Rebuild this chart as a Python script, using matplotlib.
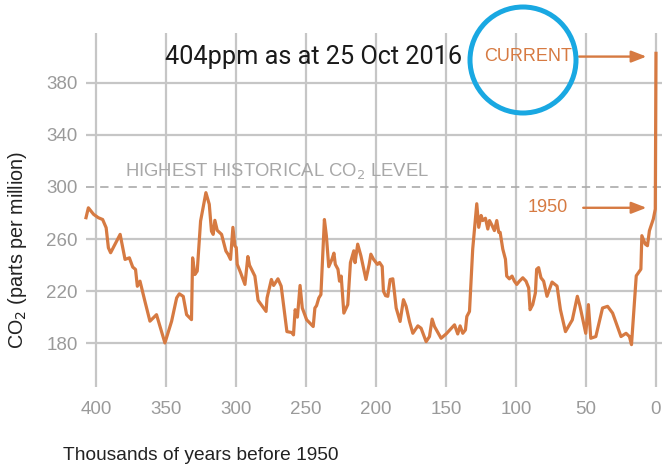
import matplotlib
matplotlib.use("Agg")
import matplotlib.pyplot as plt
from matplotlib.patches import Ellipse
from matplotlib import font_manager

# ---- data ----
kyr_before_1950 = [407.4, 405.7, 402, 398.6, 395.5, 393, 391.4, 389.8, 386.7, 383, 379.5, 376.4, 374, 372,
                   370.7, 368.8, 365.3, 361.7, 357, 351, 346.2, 342.6, 340.7, 337.9, 335.5, 332, 331.2,
                   329.6, 327.9, 325.5, 321.7, 319.3, 317.7, 316.5, 315.3, 313.6, 310.5, 307.4, 305.8,
                   304.1, 302.4, 301, 300, 299.3, 296.9, 293.8, 291.7, 290.5, 286.7, 284.4, 278.7, 278,
                   274.9, 273.3, 270.2, 267.9, 263.8, 260.3, 259.1, 257.9, 256.3, 254.4, 252.8, 249.7,
                   245, 243.8, 242.6, 241, 239.5, 237, 235.6, 233.9, 231.6, 230.2, 229.2, 227.3, 226.2,
                   225, 223.1, 220.3, 218.4, 216, 215.1, 213.2, 210.9, 207.3, 205, 203.8, 201.9, 199.1,
                   197.6, 195.7, 194.8, 193.3, 191.7, 190, 188.1, 186.9, 185.7, 182.9, 180.5, 178.6,
                   176.2, 173.8, 170.2, 167.9, 164.3, 161.9, 160, 158.3, 153.6, 150, 144, 141.7, 140,
                   138.1, 136.2, 135.2, 133.3, 131, 128.1, 126.7, 125, 123.8, 121.9, 120.2, 119, 117.1,
                   115.5, 113.8, 112.4, 111.4, 109.5, 107.6, 106.7, 104.8, 102.9, 101.2, 99.5, 97.6,
                   95.2, 92.9, 91, 90, 88.1, 86.2, 85.3, 83.9, 82.2, 80.3, 77.9, 74.3, 70.7, 68.3, 64.7,
                   59.8, 56.2, 54.3, 50.2, 48.3, 46.6, 43, 38.2, 34.6, 31, 25, 21.4, 19, 17.5, 14.1,
                   10.8, 10.1, 7.7, 6.1, 4.7, 1.9, 0.5, 0]
co2_ppm = [276.4, 284, 279, 276.4, 275, 268.7, 253.3, 249.5, 256, 263.6, 244.4, 245.6, 238.5, 236.7,
           223.8, 227.7, 212.3, 197, 202, 180.3, 197, 214.9, 218, 216, 202, 198.2, 245.6,
           232.8, 235.4, 273.8, 295.6, 286.7, 266, 263.6, 274.4, 266.7, 263.6, 250.8, 248.2,
           244.4, 269, 254.8, 253.5, 240.6, 234.2, 225.2, 246.6, 239.9, 231.6, 213, 204.5, 214.8,
           229, 224.4, 229.5, 223.9, 189, 188.3, 186.5, 205.8, 200.1, 224.4, 207.1, 198.1,
           192.9, 207.1, 208.9, 214.8, 217.4, 275, 262.6, 238.8, 244.5, 249.2, 240.6, 236.8, 227.7,
           231.6, 203.2, 209.7, 241.9, 251, 241.9, 256.1, 247.1, 229, 240.6, 248.4, 244.5, 240.6,
           242, 239, 220, 216.6, 216.1, 229, 229.5, 218.7, 207.1, 196.8, 213.5, 208.4,
           196.8, 187.7, 193.4, 191.6, 181.3, 185.2, 198.6, 192.9, 183.9, 187.2, 194.2, 187.2, 193.4,
           187.7, 190.3, 200.6, 204.5, 252.3, 287.1, 269, 278.1, 274.2, 276, 267.7, 274.2, 270.3,
           266.5, 274.2, 265.2, 265.2, 252.3, 244.5, 231.6, 229.5, 231.6, 227.7, 225.2, 227.7,
           230.3, 227.7, 222.6, 205.8, 209.7, 218.7, 236.8, 238.1, 230.3, 227.7, 216.1, 227, 223.9, 205.8, 189,
           198, 216.1, 208.4, 187.7, 209.7, 183.9, 185.2, 207.1, 208.4, 203.2, 185.2, 187.7, 185.2, 179, 231.8,
           236.9, 262.6, 256.2, 254.9, 266.4, 275.4, 283, 402.5]

y_ticks = [180, 220, 260, 300, 340, 380]
x_ticks = [400, 350, 300, 250, 200, 150, 100, 50, 0]
highest_historical = 300
current_ppm = 400
ppm_1950 = 284

LINE = "#D67A42"
GRID = "#C6C6C6"
TICK = "#9A9A9A"

avail = {f.name for f in font_manager.fontManager.ttflist}
narrow = "Liberation Sans Narrow" if "Liberation Sans Narrow" in avail else "Liberation Sans"

W, H = 662, 472
fig = plt.figure(figsize=(W / 100, H / 100), dpi=100)
L, R, T, B = 86, 662, 33, 387
ax = fig.add_axes([L / W, 1 - B / H, (R - L) / W, (B - T) / H])

ax.plot(kyr_before_1950, co2_ppm, color=LINE, lw=2.3, solid_joinstyle="round", zorder=3,
        clip_on=False)

ax.set_xlim(407.4, -4.3)
ax.set_ylim(146.5, 418.1)
ax.set_xticks(x_ticks)
ax.set_yticks(y_ticks)
for s in ax.spines.values():
    s.set_visible(False)
ax.tick_params(length=0, colors=TICK, labelsize=13.5)
ax.tick_params(axis="x", pad=10)
ax.tick_params(axis="y", pad=6)
for lab in ax.get_xticklabels() + ax.get_yticklabels():
    lab.set_fontfamily(narrow)
    lab.set_color(TICK)

for xt in x_ticks:
    ax.axvline(xt, color=GRID, lw=1.6, zorder=1)
for yt in y_ticks:
    if yt != highest_historical:
        ax.axhline(yt, color=GRID, lw=1.6, zorder=1)
ax.axhline(highest_historical, color="#AAAAAA", lw=1.2, ls=(0, (5, 3.5)), zorder=2)

ax.text(379.5, highest_historical + 4.5, "HIGHEST HISTORICAL CO$_2$ LEVEL", color="#A8A8A8",
        fontsize=13.3, family=narrow, ha="left", va="bottom")

fig.text(63 / W, 1 - 455 / H, "Thousands of years before 1950", fontsize=13.8, color="#222222",
         family=narrow, ha="left", va="center")
fig.text(18 / W, 1 - 250 / H, "CO$_2$ (parts per million)", fontsize=14.2, color="#222222",
         family=narrow, ha="center", va="center", rotation=90)

# annotations
arrow = dict(arrowstyle="-|>,head_length=0.9,head_width=0.35", color=LINE, lw=1.7)
ax.annotate("", xy=(4.8, current_ppm), xytext=(57, current_ppm), arrowprops=arrow,
            annotation_clip=False)
ax.text(60, current_ppm, "CURRENT", color=LINE, fontsize=13, family=narrow, ha="right", va="center")
ax.annotate("", xy=(4.8, ppm_1950), xytext=(54, ppm_1950), arrowprops=arrow)
ax.text(63, ppm_1950, "1950", color=LINE, fontsize=13, family=narrow, ha="right", va="center")

ax.text(351, current_ppm, "404ppm as at 25 Oct 2016", color="#1A1A1A", fontsize=18.2,
        family="Roboto", ha="left", va="center")

fig.add_artist(Ellipse((523 / W, 1 - 60 / H), 106 / W, 106 / H, transform=fig.transFigure,
                       fill=False, edgecolor="#19A8E2", lw=3.6, zorder=10, clip_on=False))

fig.savefig("out.png", dpi=100)
